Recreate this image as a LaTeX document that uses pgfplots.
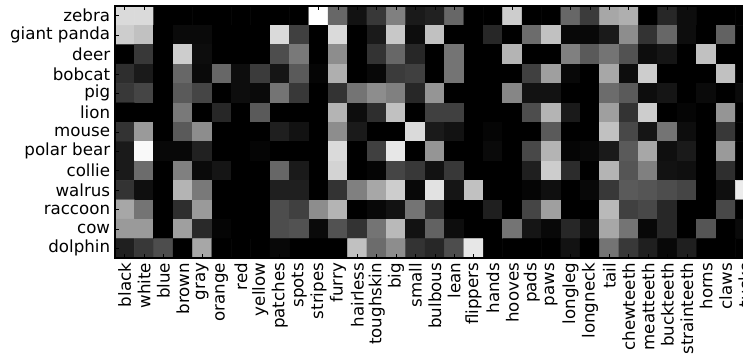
\documentclass[border=0pt]{standalone}
\usepackage{fontspec}
\setmainfont{DejaVu Sans}
\usepackage{pgfplots}
\pgfplotsset{compat=1.18}
\begin{document}
\begin{tikzpicture}
\begin{axis}[
  at={(0,0)}, anchor=south west,
  scale only axis, width=460.58bp, height=181.44bp,
  xmin=-0.5, xmax=32.5, ymin=-0.5, ymax=12.5, y dir=reverse,
  enlargelimits=false, axis on top,
  xtick={0,...,32}, ytick={0,...,12},
  xticklabels={black,white,blue,brown,gray,orange,red,yellow,patches,spots,stripes,furry,hairless,toughskin,big,small,bulbous,lean,flippers,hands,hooves,pads,paws,longleg,longneck,tail,chewteeth,meatteeth,buckteeth,strainteeth,horns,claws,tusks},
  yticklabels={zebra,giant panda,deer,bobcat,pig,lion,mouse,polar bear,collie,walrus,raccoon,cow,dolphin},
  xticklabel style={rotate=90, anchor=east},
  ticklabel style={font=\fontsize{12bp}{14bp}\selectfont},
  tick align=inside, major tick length=3bp, tick style={black, line width=0.5bp},
  axis line style={black, line width=0.75bp},
  colormap={bw}{gray(0cm)=(0); gray(1cm)=(1)},
  point meta min=0, point meta max=1,
]
\addplot[matrix plot*, mesh/cols=33, point meta=explicit] table[row sep=\\, meta=c] {
x y c \\
0 0 .85 \\ 1 0 .85 \\ 2 0 0 \\ 3 0 0 \\ 4 0 0 \\ 5 0 0 \\ 6 0 0 \\ 7 0 0 \\ 8 0 0 \\ 9 0 0 \\ 10 0 1 \\ 11 0 .4 \\ 12 0 .07 \\ 13 0 .22 \\ 14 0 .5 \\ 15 0 .1 \\ 16 0 .13 \\ 17 0 .4 \\ 18 0 0 \\ 19 0 0 \\ 20 0 .8 \\ 21 0 0 \\ 22 0 0 \\ 23 0 .4 \\ 24 0 .23 \\ 25 0 .65 \\ 26 0 .68 \\ 27 0 0 \\ 28 0 .15 \\ 29 0 .05 \\ 30 0 0 \\ 31 0 0 \\ 32 0 0 \\
0 1 .8 \\ 1 1 .75 \\ 2 1 0 \\ 3 1 .04 \\ 4 1 .04 \\ 5 1 0 \\ 6 1 0 \\ 7 1 0 \\ 8 1 .85 \\ 9 1 .25 \\ 10 1 0 \\ 11 1 .85 \\ 12 1 0 \\ 13 1 .1 \\ 14 1 .78 \\ 15 1 .05 \\ 16 1 .75 \\ 17 1 0 \\ 18 1 0 \\ 19 1 .15 \\ 20 1 0 \\ 21 1 .42 \\ 22 1 .75 \\ 23 1 .03 \\ 24 1 .03 \\ 25 1 .1 \\ 26 1 .55 \\ 27 1 .2 \\ 28 1 .4 \\ 29 1 .05 \\ 30 1 0 \\ 31 1 .38 \\ 32 1 0 \\
0 2 0 \\ 1 2 .22 \\ 2 2 0 \\ 3 2 .8 \\ 4 2 .05 \\ 5 2 0 \\ 6 2 0 \\ 7 2 0 \\ 8 2 .3 \\ 9 2 .47 \\ 10 2 0 \\ 11 2 .55 \\ 12 2 0 \\ 13 2 .2 \\ 14 2 .4 \\ 15 2 .15 \\ 16 2 0 \\ 17 2 .45 \\ 18 2 0 \\ 19 2 0 \\ 20 2 .7 \\ 21 2 0 \\ 22 2 0 \\ 23 2 .5 \\ 24 2 .35 \\ 25 2 .45 \\ 26 2 .32 \\ 27 2 .05 \\ 28 2 .08 \\ 29 2 0 \\ 30 2 .75 \\ 31 2 0 \\ 32 2 0 \\
0 3 .18 \\ 1 3 .1 \\ 2 3 0 \\ 3 3 .4 \\ 4 3 .04 \\ 5 3 .4 \\ 6 3 .05 \\ 7 3 .23 \\ 8 3 .08 \\ 9 3 .35 \\ 10 3 .02 \\ 11 3 .68 \\ 12 3 0 \\ 13 3 .03 \\ 14 3 .23 \\ 15 3 .25 \\ 16 3 0 \\ 17 3 .45 \\ 18 3 0 \\ 19 3 0 \\ 20 3 0 \\ 21 3 .25 \\ 22 3 .62 \\ 23 3 .03 \\ 24 3 0 \\ 25 3 .65 \\ 26 3 .05 \\ 27 3 .8 \\ 28 3 0 \\ 29 3 0 \\ 30 3 0 \\ 31 3 .75 \\ 32 3 0 \\
0 4 .22 \\ 1 4 .27 \\ 2 4 0 \\ 3 4 .35 \\ 4 4 .27 \\ 5 4 0 \\ 6 4 .05 \\ 7 4 .04 \\ 8 4 .45 \\ 9 4 .22 \\ 10 4 0 \\ 11 4 .2 \\ 12 4 .45 \\ 13 4 .55 \\ 14 4 .5 \\ 15 4 .15 \\ 16 4 .58 \\ 17 4 0 \\ 18 4 0 \\ 19 4 0 \\ 20 4 .52 \\ 21 4 .07 \\ 22 4 .07 \\ 23 4 0 \\ 24 4 0 \\ 25 4 .42 \\ 26 4 .35 \\ 27 4 .05 \\ 28 4 .08 \\ 29 4 0 \\ 30 4 .04 \\ 31 4 0 \\ 32 4 .04 \\
0 5 0 \\ 1 5 0 \\ 2 5 0 \\ 3 5 .47 \\ 4 5 0 \\ 5 5 .15 \\ 6 5 0 \\ 7 5 .35 \\ 8 5 0 \\ 9 5 0 \\ 10 5 0 \\ 11 5 .7 \\ 12 5 .05 \\ 13 5 .18 \\ 14 5 .75 \\ 15 5 0 \\ 16 5 .25 \\ 17 5 .25 \\ 18 5 0 \\ 19 5 0 \\ 20 5 0 \\ 21 5 .3 \\ 22 5 .7 \\ 23 5 .1 \\ 24 5 0 \\ 25 5 .62 \\ 26 5 .2 \\ 27 5 .8 \\ 28 5 0 \\ 29 5 .02 \\ 30 5 0 \\ 31 5 .58 \\ 32 5 0 \\
0 6 .2 \\ 1 6 .6 \\ 2 6 0 \\ 3 6 .35 \\ 4 6 .55 \\ 5 6 0 \\ 6 6 0 \\ 7 6 0 \\ 8 6 .12 \\ 9 6 .07 \\ 10 6 0 \\ 11 6 .55 \\ 12 6 .1 \\ 13 6 0 \\ 14 6 0 \\ 15 6 .85 \\ 16 6 .1 \\ 17 6 .07 \\ 18 6 0 \\ 19 6 .02 \\ 20 6 0 \\ 21 6 0 \\ 22 6 .35 \\ 23 6 0 \\ 24 6 0 \\ 25 6 .75 \\ 26 6 .28 \\ 27 6 .08 \\ 28 6 .45 \\ 29 6 .05 \\ 30 6 0 \\ 31 6 .22 \\ 32 6 0 \\
0 7 .1 \\ 1 7 .97 \\ 2 7 .03 \\ 3 7 .03 \\ 4 7 .13 \\ 5 7 0 \\ 6 7 0 \\ 7 7 .02 \\ 8 7 0 \\ 9 7 0 \\ 10 7 0 \\ 11 7 .85 \\ 12 7 0 \\ 13 7 .25 \\ 14 7 .9 \\ 15 7 0 \\ 16 7 .58 \\ 17 7 0 \\ 18 7 0 \\ 19 7 .04 \\ 20 7 0 \\ 21 7 .28 \\ 22 7 .7 \\ 23 7 .02 \\ 24 7 .03 \\ 25 7 .1 \\ 26 7 .35 \\ 27 7 .65 \\ 28 7 .06 \\ 29 7 .1 \\ 30 7 0 \\ 31 7 .6 \\ 32 7 0 \\
0 8 .1 \\ 1 8 .42 \\ 2 8 0 \\ 3 8 .5 \\ 4 8 .04 \\ 5 8 .08 \\ 6 8 0 \\ 7 8 0 \\ 8 8 .4 \\ 9 8 .1 \\ 10 8 0 \\ 11 8 .82 \\ 12 8 0 \\ 13 8 .02 \\ 14 8 .27 \\ 15 8 .22 \\ 16 8 .07 \\ 17 8 .22 \\ 18 8 0 \\ 19 8 0 \\ 20 8 0 \\ 21 8 .12 \\ 22 8 .8 \\ 23 8 .17 \\ 24 8 0 \\ 25 8 .7 \\ 26 8 .33 \\ 27 8 .5 \\ 28 8 .07 \\ 29 8 .06 \\ 30 8 0 \\ 31 8 .18 \\ 32 8 0 \\
0 9 .2 \\ 1 9 .06 \\ 2 9 0 \\ 3 9 .7 \\ 4 9 .47 \\ 5 9 0 \\ 6 9 0 \\ 7 9 0 \\ 8 9 .12 \\ 9 9 .12 \\ 10 9 0 \\ 11 9 .2 \\ 12 9 .5 \\ 13 9 .65 \\ 14 9 .8 \\ 15 9 .03 \\ 16 9 .88 \\ 17 9 .08 \\ 18 9 .75 \\ 19 9 0 \\ 20 9 0 \\ 21 9 .02 \\ 22 9 .06 \\ 23 9 0 \\ 24 9 .03 \\ 25 9 .22 \\ 26 9 .35 \\ 27 9 .33 \\ 28 9 .3 \\ 29 9 .27 \\ 30 9 0 \\ 31 9 .06 \\ 32 9 .92 \\
0 10 .65 \\ 1 10 .45 \\ 2 10 0 \\ 3 10 .18 \\ 4 10 .6 \\ 5 10 0 \\ 6 10 0 \\ 7 10 0 \\ 8 10 .3 \\ 9 10 .25 \\ 10 10 .55 \\ 11 10 .7 \\ 12 10 0 \\ 13 10 .03 \\ 14 10 .07 \\ 15 10 .45 \\ 16 10 .18 \\ 17 10 0 \\ 18 10 0 \\ 19 10 .12 \\ 20 10 0 \\ 21 10 .27 \\ 22 10 .62 \\ 23 10 0 \\ 24 10 0 \\ 25 10 .72 \\ 26 10 .25 \\ 27 10 .28 \\ 28 10 .15 \\ 29 10 0 \\ 30 10 0 \\ 31 10 .28 \\ 32 10 0 \\
0 11 .6 \\ 1 11 .6 \\ 2 11 0 \\ 3 11 .62 \\ 4 11 .16 \\ 5 11 .02 \\ 6 11 0 \\ 7 11 0 \\ 8 11 .3 \\ 9 11 .32 \\ 10 11 .04 \\ 11 11 .32 \\ 12 11 .2 \\ 13 11 .45 \\ 14 11 .72 \\ 15 11 .07 \\ 16 11 .38 \\ 17 11 .05 \\ 18 11 0 \\ 19 11 0 \\ 20 11 .45 \\ 21 11 .08 \\ 22 11 .03 \\ 23 11 .15 \\ 24 11 .06 \\ 25 11 .65 \\ 26 11 .45 \\ 27 11 .03 \\ 28 11 .15 \\ 29 11 0 \\ 30 11 .33 \\ 31 11 0 \\ 32 11 .04 \\
0 12 .12 \\ 1 12 .22 \\ 2 12 .3 \\ 3 12 0 \\ 4 12 .65 \\ 5 12 0 \\ 6 12 0 \\ 7 12 0 \\ 8 12 .03 \\ 9 12 0 \\ 10 12 0 \\ 11 12 0 \\ 12 12 .75 \\ 13 12 .42 \\ 14 12 .55 \\ 15 12 .2 \\ 16 12 .15 \\ 17 12 .3 \\ 18 12 .9 \\ 19 12 0 \\ 20 12 0 \\ 21 12 0 \\ 22 12 0 \\ 23 12 .07 \\ 24 12 0 \\ 25 12 .45 \\ 26 12 .22 \\ 27 12 .12 \\ 28 12 .03 \\ 29 12 .12 \\ 30 12 0 \\ 31 12 0 \\ 32 12 0 \\
};
\end{axis}
\pgfresetboundingbox
\path[use as bounding box] (-82.8bp,-72bp) rectangle (452.16bp,185.76bp);
\end{tikzpicture}
\end{document}
